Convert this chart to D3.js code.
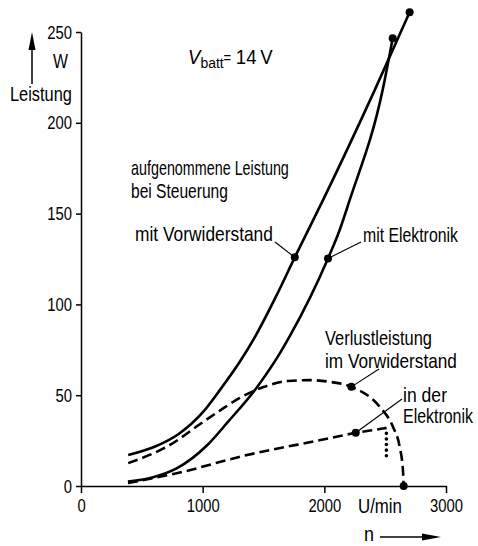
<!DOCTYPE html>
<html>
<head>
<meta charset="utf-8">
<script src="https://cdn.jsdelivr.net/npm/d3@7"></script>
<style>
  body { margin: 0; background: #fff; }
  text { font-family: "Liberation Sans", Arial, sans-serif; fill: #000; }
</style>
</head>
<body>
<div id="chart"></div>
<script>
// values: [n in U/min, P in W]
var xTicks = [0, 1000, 2000, 3000];
var yTicks = [0, 50, 100, 150, 200, 250];
var vorwiderstand = [[388, 17.1], [600, 21.5], [800, 28.5], [1000, 40.5], [1141, 52.8], [1305, 68.4], [1429, 82],
                     [1600, 104], [1757, 125.9], [1989, 157.4], [2414, 218], [2701, 260.9]];
var elektronik = [[386, 2.4], [600, 5], [786, 9.7], [1045, 23], [1209, 35.4], [1442, 54], [1634, 73], [1716, 82.5],
                  [2030, 125.3], [2126, 141], [2208, 157.4], [2479, 218], [2562, 246.6]];
var verlustVorw = [[388, 12.6], [731, 22.6], [977, 34], [1141, 41.5], [1305, 48.5], [1500, 54.5], [1700, 57.8],
                   [1880, 58.3], [2050, 57.3], [2222, 54.6], [2455, 43.6], [2564, 32.6], [2619, 21.6], [2646, 8.8], [2652, 0]];
var verlustElek = [[386, 1.7], [786, 7.0], [1330, 16.5], [2044, 26.3], [2258, 29.3], [2496, 31.8], [2512, 32]];
var verlustElekDrop = [[2510, 29], [2510, 16]];
var dots = [vorwiderstand[8], vorwiderstand[11], elektronik[8], elektronik[12],
            verlustVorw[9], verlustVorw[14], verlustElek[4]];

var width = 478, height = 546;

var svg = d3.select("#chart")
            .append("svg")
              .attr("width", width)
              .attr("height", height);

var x = d3.scaleLinear().domain([0, 3000]).range([81, 446]);
var y = d3.scaleLinear().domain([0, 250]).range([486, 32]);

// axes
var squeeze = 0.78;   // the original lettering is a narrow face
svg.append("g")
    .attr("transform", "translate(0," + y(0) + ")")
    .call(d3.axisBottom(x).tickValues(xTicks).tickFormat(d3.format("d"))
          .tickSize(7).tickSizeOuter(0).tickPadding(6));
svg.append("g")
    .attr("class", "yaxis")
    .attr("transform", "translate(" + x(0) + ",0)")
    .call(d3.axisLeft(y).tickValues(yTicks).tickFormat(d3.format("d"))
          .tickSize(5).tickSizeOuter(0).tickPadding(4));

svg.selectAll(".domain, .tick line").attr("stroke", "#000").attr("stroke-width", 1.5);
svg.selectAll(".tick text")
    .style("font-family", '"Liberation Sans", Arial, sans-serif')
    .style("font-size", "19px")
    .attr("fill", "#000")
    .attr("transform", "scale(" + squeeze + ",1)");
svg.selectAll(".yaxis .tick text").attr("x", -9 / squeeze);

// curves
var line = d3.line()
    .x(d => x(d[0]))
    .y(d => y(d[1]))
    .curve(d3.curveMonotoneX);

function curve(data, dash) {
    svg.append("path")
        .attr("d", line(data))
        .attr("fill", "none")
        .attr("stroke", "#000")
        .attr("stroke-width", 2.6)
        .attr("stroke-dasharray", dash);
}
curve(vorwiderstand, null);
curve(elektronik, null);
curve(verlustVorw, "10 5");
curve(verlustElek, "10 5");

svg.append("path")
    .attr("d", d3.line().x(d => x(d[0])).y(d => y(d[1]))(verlustElekDrop))
    .attr("stroke", "#000")
    .attr("stroke-width", 3.6)
    .attr("stroke-linecap", "round")
    .attr("stroke-dasharray", "0 5.6");

svg.selectAll("circle.pt")
    .data(dots)
    .enter().append("circle")
    .attr("class", "pt")
    .attr("cx", d => x(d[0]))
    .attr("cy", d => y(d[1]))
    .attr("r", 4)
    .attr("fill", "#000");

// texts, squeezed to the widths of the narrow original lettering
function fit(g, t, tx, ty, w) {
    var sx = w / t.node().getComputedTextLength();
    g.attr("transform", "translate(" + tx + "," + ty + ") scale(" + sx + ",1)");
}
function label(tx, ty, str, w) {
    var g = svg.append("g");
    var t = g.append("text").style("font-size", "20px").text(str);
    fit(g, t, tx, ty, w);
    return t;
}
label(131, 175, "aufgenommene Leistung", 158);
label(131, 198, "bei Steuerung", 97);
label(135, 241, "mit Vorwiderstand", 138);
label(363, 242, "mit Elektronik", 95);
label(325, 345, "Verlustleistung", 107);
label(325, 368, "im Vorwiderstand", 132);
label(403, 402, "in der", 44);
label(403, 423, "Elektronik", 70);
label(10, 101, "Leistung", 62);
label(53, 68, "W", 15);
label(358, 513, "U/min", 44);
label(364, 541, "n", 10);

var vg = svg.append("g");
var vb = vg.append("text").style("font-size", "20px");
vb.append("tspan").style("font-style", "italic").text("V");
vb.append("tspan").attr("dy", 4).style("font-size", "15px").text("batt");
vb.append("tspan").attr("dy", -5).style("font-size", "14px").text("=");
vb.append("tspan").attr("dy", 1).attr("dx", 5).text("14\u2009V");
fit(vg, vb, 188, 64, 80);

// leader lines to the marked points
function leader(x1, y1, d) {
    svg.append("line")
        .attr("x1", x1).attr("y1", y1)
        .attr("x2", x(d[0])).attr("y2", y(d[1]))
        .attr("stroke", "#000")
        .attr("stroke-width", 1.1);
}
leader(275, 242, vorwiderstand[8]);
leader(361, 242, elektronik[8]);
leader(379, 369, verlustVorw[9]);
leader(402, 399, verlustElek[4]);

// axis name arrows
svg.append("line").attr("x1", 32).attr("y1", 84).attr("x2", 32).attr("y2", 46)
    .attr("stroke", "#000").attr("stroke-width", 1.5);
svg.append("path").attr("d", "M32,32 L28.5,50 L35.5,50 Z").attr("fill", "#000");
svg.append("line").attr("x1", 380).attr("y1", 537).attr("x2", 426).attr("y2", 537)
    .attr("stroke", "#000").attr("stroke-width", 1.5);
svg.append("path").attr("d", "M441,537 L422,533.5 L422,540.5 Z").attr("fill", "#000");
</script>
</body>
</html>
